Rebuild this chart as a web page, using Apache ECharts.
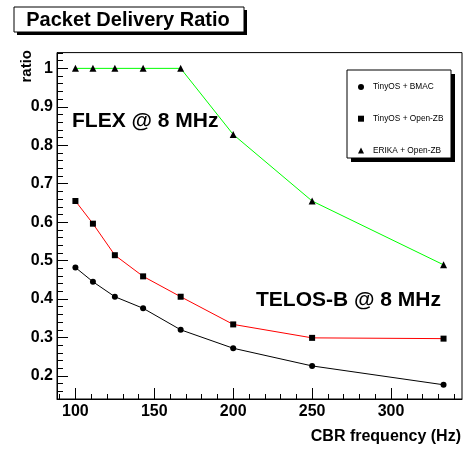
<!DOCTYPE html>
<html><head><meta charset="utf-8">
<script src="https://cdn.jsdelivr.net/npm/echarts@6/dist/echarts.min.js"></script>
<style>html,body{margin:0;padding:0;background:#fff}#c{width:468px;height:449px}</style>
</head><body><div id="c"></div>
<script>
const freqs = [100, 111.1, 125, 142.9, 166.7, 200, 250, 333.3];
const bmac = [0.482, 0.445, 0.406, 0.376, 0.320, 0.272, 0.226, 0.177];
const openzb = [0.655, 0.596, 0.514, 0.459, 0.406, 0.334, 0.299, 0.297];
const erika = [1, 1, 1, 1, 1, 0.828, 0.655, 0.489];
const seriesNames = ['TinyOS + BMAC', 'TinyOS + Open-ZB', 'ERIKA + Open-ZB'];
const xMajorTicks = [100, 150, 200, 250, 300];
const xMinorTicks = [90, 100, 110, 120, 130, 140, 150, 160, 170, 180, 190, 200, 210, 220, 230, 240, 250, 260, 270, 280, 290, 300, 310, 320, 330, 340];
const yMajorTicks = [0.2, 0.3, 0.4, 0.5, 0.6, 0.7, 0.8, 0.9, 1.0];
const yMinorTicks = [0.14, 0.16, 0.18, 0.2, 0.22, 0.24, 0.26, 0.28, 0.3, 0.32, 0.34, 0.36, 0.38, 0.4, 0.42, 0.44, 0.46, 0.48, 0.5, 0.52, 0.54, 0.56, 0.58, 0.6, 0.62, 0.64, 0.66, 0.68, 0.7, 0.72, 0.74, 0.76, 0.78, 0.8, 0.82, 0.84, 0.86, 0.88, 0.9, 0.92, 0.94, 0.96, 0.98, 1.0, 1.02, 1.04];
const X_MIN = 88.33, X_MAX = 345, Y_MIN = 0.14, Y_MAX = 1.041;

const FONT = '"Liberation Sans", Arial, Helvetica, sans-serif';
const chart = echarts.init(document.getElementById('c'), null, {renderer: 'canvas'});
const pairs = arr => freqs.map((f, i) => [f, arr[i]]);

const mkSeries = (name, arr, symbol, size, lineColor) => ({
  name, type: 'line', data: pairs(arr), symbol, symbolSize: size,
  itemStyle: {color: '#000'}, lineStyle: {color: lineColor, width: 1},
  emphasis: {disabled: true}, animation: false, z: 3
});

chart.setOption({
  animation: false,
  backgroundColor: '#fff',
  grid: {left: 57, right: 6, top: 52.6, bottom: 50, show: true, borderColor: '#000', borderWidth: 1, backgroundColor: 'transparent'},
  xAxis: [
    {type: 'value', min: X_MIN, max: X_MAX, position: 'bottom',
     axisLine: {show: true, lineStyle: {color: '#000', width: 1}},
     axisTick: {show: true, inside: true, length: 11, lineStyle: {color: '#000'}, customValues: xMajorTicks},
     axisLabel: {show: true, customValues: xMajorTicks, color: '#000', fontFamily: FONT, fontWeight: 'bold', fontSize: 16, margin: 5},
     splitLine: {show: false}},
    {type: 'value', min: X_MIN, max: X_MAX, position: 'bottom',
     axisLine: {show: false},
     axisTick: {show: true, inside: true, length: 5, lineStyle: {color: '#000'}, customValues: xMinorTicks},
     axisLabel: {show: false}, splitLine: {show: false}}
  ],
  yAxis: [
    {type: 'value', min: Y_MIN, max: Y_MAX, position: 'left',
     axisLine: {show: true, lineStyle: {color: '#000', width: 1}},
     axisTick: {show: true, inside: true, length: 11, lineStyle: {color: '#000'}, customValues: yMajorTicks},
     axisLabel: {show: true, customValues: yMajorTicks, color: '#000', fontFamily: FONT, fontWeight: 'bold', fontSize: 16, margin: 4,
       formatter: v => String(+v.toFixed(1))},
     splitLine: {show: false}},
    {type: 'value', min: Y_MIN, max: Y_MAX, position: 'left',
     axisLine: {show: false},
     axisTick: {show: true, inside: true, length: 6, lineStyle: {color: '#000'}, customValues: yMinorTicks},
     axisLabel: {show: false}, splitLine: {show: false}}
  ],
  legend: {
    orient: 'vertical', left: 358, top: 82, itemGap: 21.7, itemWidth: 6, itemHeight: 6,
    padding: 0, selectedMode: false,
    textStyle: {fontFamily: FONT, fontSize: 8.3, color: '#000', lineHeight: 10, padding: [0, 0, 0, 4]},
    data: [
      {name: seriesNames[0], icon: 'circle'},
      {name: seriesNames[1], icon: 'rect'},
      {name: seriesNames[2], icon: 'triangle'}
    ],
    z: 10
  },
  graphic: [
    {type: 'rect', shape: {x: 17, y: 10, width: 230, height: 25}, style: {fill: '#000'}, z: 1},
    {type: 'rect', shape: {x: 14, y: 7, width: 230, height: 25}, style: {fill: '#fff', stroke: '#000', lineWidth: 1}, z: 2},
    {type: 'text', x: 128, y: 20, style: {text: 'Packet Delivery Ratio', fill: '#000', font: 'bold 20px ' + FONT, align: 'center', verticalAlign: 'middle'}, z: 3},
    {type: 'rect', shape: {x: 351, y: 74, width: 104, height: 88}, style: {fill: '#000'}, z: 5},
    {type: 'rect', shape: {x: 347, y: 70, width: 104, height: 88}, style: {fill: '#fff', stroke: '#000', lineWidth: 1}, z: 6},
    {type: 'text', x: 72, y: 121, style: {text: 'FLEX @ 8 MHz', fill: '#000', font: 'bold 21px ' + FONT, align: 'left', verticalAlign: 'middle'}, z: 4},
    {type: 'text', x: 256, y: 300.5, style: {text: 'TELOS-B @ 8 MHz', fill: '#000', font: 'bold 21px ' + FONT, align: 'left', verticalAlign: 'middle'}, z: 4},
    {type: 'text', x: 26.5, y: 50, rotation: Math.PI / 2, style: {text: 'ratio', fill: '#000', font: 'bold 15px ' + FONT, align: 'right', verticalAlign: 'middle'}, z: 4},
    {type: 'text', x: 461, y: 437, style: {text: 'CBR frequency (Hz)', fill: '#000', font: 'bold 16px ' + FONT, align: 'right', verticalAlign: 'middle'}, z: 4}
  ],
  series: [
    mkSeries(seriesNames[0], bmac, 'circle', 6, '#000'),
    mkSeries(seriesNames[1], openzb, 'rect', 6, '#ff0000'),
    mkSeries(seriesNames[2], erika, 'triangle', 7, '#00ff00')
  ]
});
</script></body></html>
